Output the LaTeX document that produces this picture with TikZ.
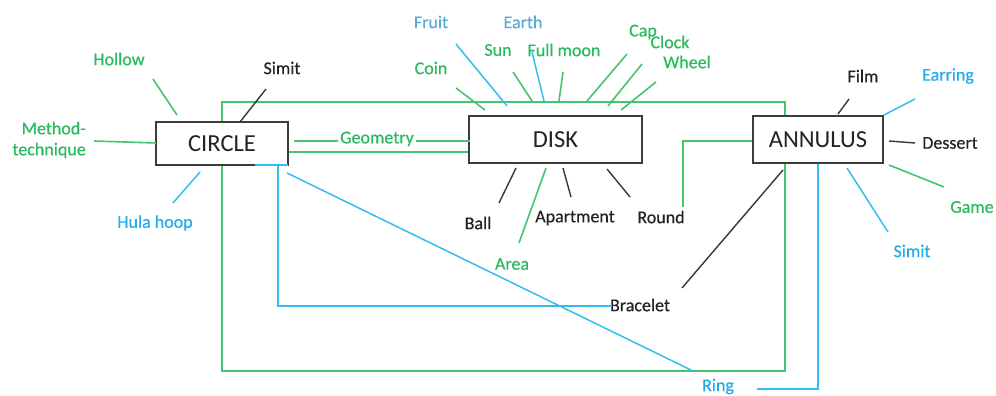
\documentclass[tikz,border=0pt]{standalone}
\usepackage{fontspec}
\setmainfont{Carlito}
\newfontfamily\lblfont{Carlito}[FakeBold=0.4]
\definecolor{greenL}{RGB}{70,196,112}
\definecolor{greenT}{RGB}{40,186,92}
\definecolor{blueL}{RGB}{52,190,240}
\definecolor{blueT}{RGB}{32,172,236}
\definecolor{blueF}{RGB}{92,170,212}
\definecolor{blackL}{RGB}{55,55,55}
\definecolor{blackT}{RGB}{35,35,35}
\definecolor{boxgray}{RGB}{60,60,60}
\begin{document}
\begin{tikzpicture}[x=1pt,y=-1pt,
  box/.style={draw=boxgray, line width=1.6pt, fill=white, inner sep=0pt,
    font=\fontsize{24.5}{28}\selectfont, text=blackT},
  lbl/.style={font=\lblfont\fontsize{18}{21}\selectfont, inner sep=0pt},
  gl/.style={draw=greenL, line width=1.6pt},
  bl/.style={draw=blueL, line width=1.5pt},
  kl/.style={draw=blackL, line width=1.4pt}]
\useasboundingbox (0,0) rectangle (996,396);
\fill[white] (0,0) rectangle (996,396);

% big green frame (behind boxes)
\coordinate (fTL) at (222,102);
\coordinate (fBR) at (785,371);
\draw[gl] (fTL) rectangle (fBR);

% boxes
\node[box, minimum width=132pt, minimum height=43pt] (circle) at (222,143.5) {CIRCLE};
\node[box, minimum width=173pt, minimum height=47pt] (disk) at (555.5,139.5) {DISK};
\node[box, minimum width=130pt, minimum height=47pt] (annulus) at (818,139.5) {ANNULUS};

% labels
\node[lbl, text=greenT] (hollow) at (119,59) {Hollow};
\node[lbl, text=greenT, align=right, anchor=east] (method) at (86,140) {Method-\\technique};
\node[lbl, text=blueT] (hula) at (155,223) {Hula hoop};
\node[lbl, text=blackT] (simitA) at (282,68) {Simit};
\node[lbl, text=blueF] (fruit) at (431,22) {Fruit};
\node[lbl, text=blueF] (earth) at (523,22) {Earth};
\node[lbl, text=greenT] (sun) at (498,50) {Sun};
\node[lbl, text=greenT] (fullmoon) at (564,50) {Full moon};
\node[lbl, text=greenT] (coin) at (431,68) {Coin};
\node[lbl, text=greenT] (cap) at (643,32) {Cap};
\node[lbl, text=greenT] (clock) at (670,42) {Clock};
\node[lbl, text=greenT] (wheel) at (687,62) {Wheel};
\node[lbl, text=blackT] (ball) at (478,223) {Ball};
\node[lbl, text=greenT] (area) at (512,264) {Area};
\node[lbl, text=blackT] (apartment) at (575,218) {Apartment};
\node[lbl, text=blackT] (round) at (661,217) {Round};
\node[lbl, text=blackT] (film) at (863,76) {Film};
\node[lbl, text=blueT] (earring) at (948,76) {Earring};
\node[lbl, text=blackT] (dessert) at (950,143) {Dessert};
\node[lbl, text=greenT] (game) at (972,207) {Game};
\node[lbl, text=blueT] (simitB) at (912,251) {Simit};
\node[lbl, text=blackT] (bracelet) at (640,305) {Bracelet};
\node[lbl, text=blueT] (ring) at (718,386.5) {Ring};

% spokes
\foreach \n/\ax/\ay/\bx/\by/\s in {
  hol/153/79/177/115/gl, met/94/141/156/143/gl, hul/200/172/173/203/bl,
  sia/266/89/240/122/kl,
  fru/456/44/507/106/bl, ear/532/52/544/101/bl, sun/513/72/532/101/gl,
  ful/563/72/559/101/gl, coi/456/88/485/110/gl, cap/627/54/587/101/gl,
  clo/642/64/608/106/gl, whe/656/82/621/110/gl,
  bal/516/168/499/203/kl, are/546/168/519/243/gl, apa/563/168/571/197/kl,
  rou/607/169/630/197/kl,
  fil/849/99/838/114/kl, err/915/99/884/115/bl, des/889/141/915/143/kl,
  gam/889/165/944/187/gl, sib/847/168/888/232/bl, bra/783/170/682/288/kl}
{
  \coordinate (\n-a) at (\ax,\ay);
  \coordinate (\n-b) at (\bx,\by);
  \draw[\s] (\n-a) -- (\n-b);
}

% geometry links
\coordinate (geoA) at (294,141);
\coordinate (geoB) at (470,141);
\draw[gl] (geoA) -- (geoB);
\node[lbl, text=greenT, fill=white, inner xsep=2pt, inner ysep=1pt] (geometry) at (377,139) {Geometry};
\draw[gl] (circle.east |- 0,152) -- (disk.west |- 0,152);

% round to annulus
\coordinate (rndA) at (683,207);
\draw[gl] (rndA) -- (683,141) -- (annulus.west |- 0,141);

% blue: circle to bracelet
\coordinate (brA) at (612,306);
\draw[bl] (255,165) -- (288,165);
\draw[bl] (brA) -- (278,306) -- (278,165);
% blue: circle to ring (diagonal)
\coordinate (diaA) at (287,173);
\coordinate (diaB) at (693,371);
\draw[bl] (diaA) -- (diaB);
% blue: ring to annulus
\coordinate (ringA) at (757,389);
\draw[bl] (ringA) -- (818,389) -- (annulus.south -| 818,0);
\end{tikzpicture}
\end{document}
